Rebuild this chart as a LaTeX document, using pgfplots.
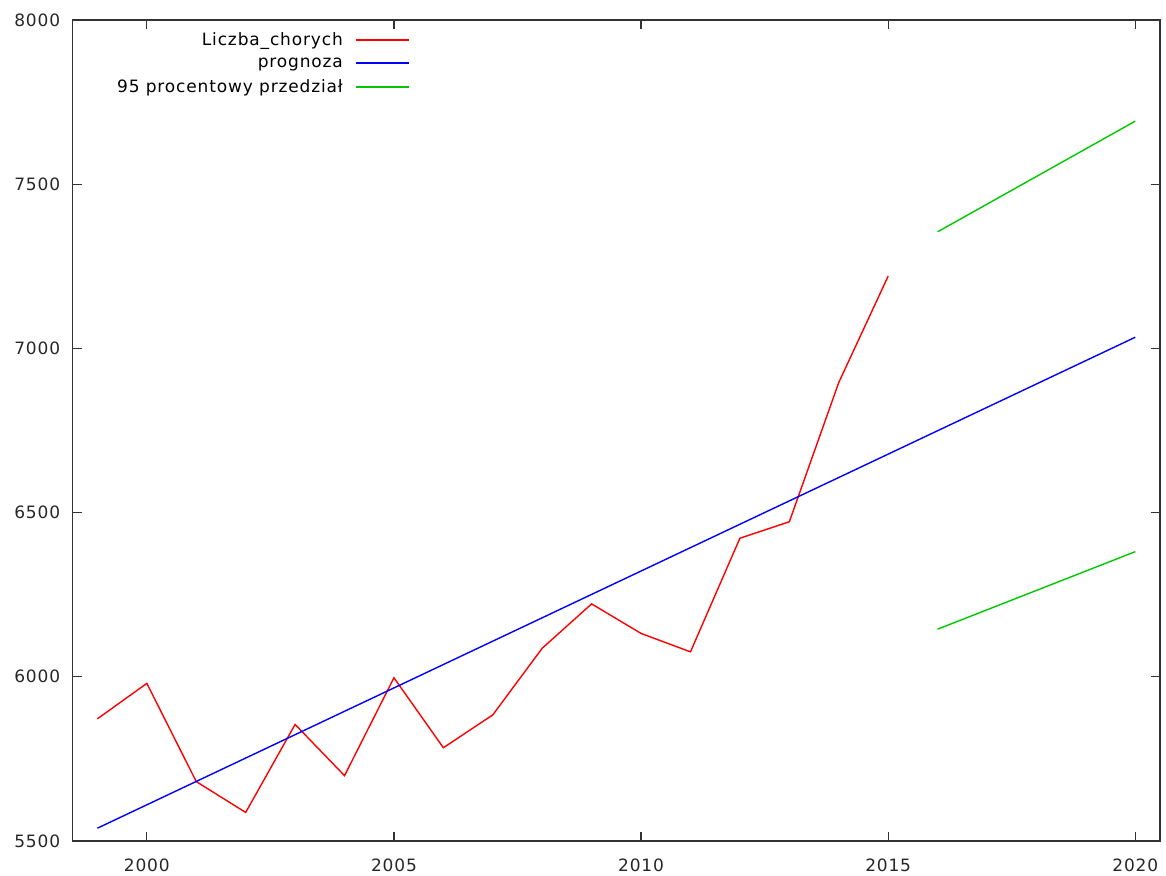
\documentclass[border=0pt]{standalone}
\usepackage{fontspec}
\setmainfont[LetterSpace=5]{DejaVu Sans}
\usepackage{pgfplots}
\pgfplotsset{compat=1.18}
\definecolor{gred}{RGB}{255,0,0}
\definecolor{gblue}{RGB}{0,0,255}
\definecolor{ggreen}{RGB}{0,200,0}
\begin{document}
\begin{tikzpicture}
\useasboundingbox (-72.7pt,-34pt) rectangle (1093.3pt,841pt);
\begin{axis}[
  at={(0pt,0pt)}, anchor=south west,
  scale only axis, width=1087.3pt, height=821pt,
  xmin=1998.5, xmax=2020.5, ymin=5500, ymax=8000,
  xtick={2000,2005,...,2020}, ytick={5500,6000,...,8000},
  minor tick num=0,
  tick align=inside, major tick length=9pt,
  tick style={line width=1.3pt, color=black!80},
  axis line style={line width=1.3pt, black!80},
  /pgf/number format/1000 sep={},
  /pgf/number format/assume math mode=true,
  tick label style={font=\fontsize{17}{19}\selectfont, color=black!85},
  xticklabel style={yshift=-14pt},
  yticklabel style={xshift=-9pt},
  legend plot pos=right,
  legend cell align=right,
  legend style={draw=none, fill=none, at={(0.313,0.990)}, anchor=north east,
    font=\fontsize{17}{19}\selectfont, row sep=7pt, column sep=10pt},
  legend image code/.code={\draw[#1, line width=2pt] (0pt,0pt) -- (53pt,0pt);},
]
\addplot[color=gred, line width=1.4pt] coordinates {
(1999,5872) (2000,5980) (2001,5681) (2002,5587) (2003,5855) (2004,5699)
(2005,5997) (2006,5784) (2007,5884) (2008,6087) (2009,6222) (2010,6132)
(2011,6076) (2012,6422) (2013,6472) (2014,6896) (2015,7220)};
\addlegendentry{Liczba\_chorych}
\addplot[color=gblue, line width=1.4pt] coordinates {(1999,5539) (2020,7034)};
\addlegendentry{prognoza}
\addplot[color=ggreen, line width=1.4pt] coordinates {(2016,7355) (2020,7692)};
\addlegendentry{95 procentowy przedział}
\addplot[color=ggreen, line width=1.4pt, forget plot] coordinates {(2016,6145) (2020,6381)};
\end{axis}
\end{tikzpicture}
\end{document}
